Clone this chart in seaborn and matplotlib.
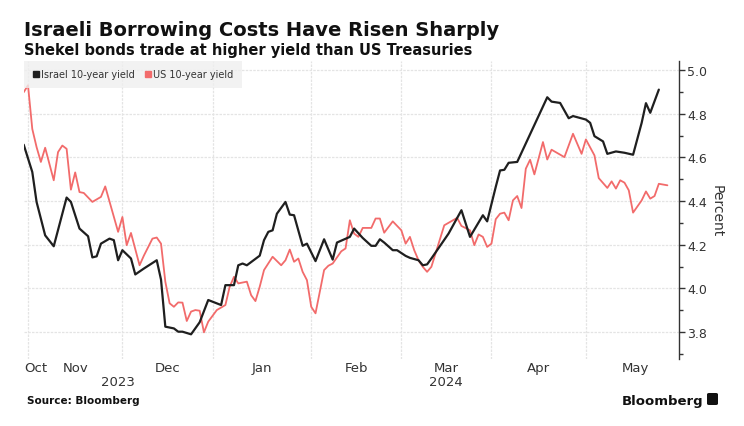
import numpy as np
import pandas as pd
import matplotlib
matplotlib.use("Agg")
import matplotlib.pyplot as plt
from matplotlib.lines import Line2D
from matplotlib.patches import FancyBboxPatch
from matplotlib.ticker import FixedLocator, NullFormatter
import seaborn as sns

# ---------------- data ----------------
series_names = ["Israel 10-year yield", "US 10-year yield"]
series_colors = ["#1f1f1f", "#f26b6b"]

israel_dates = [
    "2023-10-31", "2023-11-02", "2023-11-03", "2023-11-07", "2023-11-09", "2023-11-14",
    "2023-11-15", "2023-11-17", "2023-11-21", "2023-11-22", "2023-11-23", "2023-11-24",
    "2023-11-28", "2023-11-29", "2023-11-30", "2023-12-01", "2023-12-05", "2023-12-06",
    "2023-12-08", "2023-12-13", "2023-12-14", "2023-12-15", "2023-12-19", "2023-12-20",
    "2023-12-21", "2023-12-25", "2023-12-27", "2023-12-29", "2024-01-03", "2024-01-04",
    "2024-01-08", "2024-01-09", "2024-01-10", "2024-01-11", "2024-01-16", "2024-01-17",
    "2024-01-18", "2024-01-19", "2024-01-22", "2024-01-24", "2024-01-25", "2024-01-26",
    "2024-01-30", "2024-01-31", "2024-02-02", "2024-02-06", "2024-02-08", "2024-02-09",
    "2024-02-14", "2024-02-15", "2024-02-19", "2024-02-21", "2024-02-22", "2024-02-23",
    "2024-02-26", "2024-02-28", "2024-02-29", "2024-03-04", "2024-03-05", "2024-03-07",
    "2024-03-08", "2024-03-11", "2024-03-12", "2024-03-18", "2024-03-21", "2024-03-25",
    "2024-03-28", "2024-03-29", "2024-04-02", "2024-04-03", "2024-04-04", "2024-04-05",
    "2024-04-09", "2024-04-18", "2024-04-19", "2024-04-23", "2024-04-25", "2024-04-26",
    "2024-05-01", "2024-05-02", "2024-05-03", "2024-05-07", "2024-05-08", "2024-05-10",
    "2024-05-14", "2024-05-16", "2024-05-20", "2024-05-21", "2024-05-22", "2024-05-24",
]
israel_yield = [
    4.658, 4.533, 4.396, 4.243, 4.193, 4.416,
    4.396, 4.274, 4.239, 4.142, 4.147, 4.205,
    4.228, 4.221, 4.129, 4.175, 4.137, 4.064,
    4.091, 4.129, 4.040, 3.825, 3.817, 3.802,
    3.802, 3.790, 3.845, 3.947, 3.924, 4.015,
    4.015, 4.106, 4.114, 4.106, 4.150, 4.221,
    4.259, 4.266, 4.342, 4.396, 4.338, 4.335,
    4.195, 4.205, 4.125, 4.225, 4.132, 4.210,
    4.236, 4.274, 4.231, 4.195, 4.195, 4.225,
    4.210, 4.175, 4.175, 4.149, 4.140, 4.129,
    4.106, 4.110, 4.137, 4.251, 4.358, 4.236,
    4.335, 4.307, 4.465, 4.540, 4.543, 4.575,
    4.579, 4.875, 4.855, 4.849, 4.779, 4.789,
    4.773, 4.758, 4.697, 4.673, 4.616, 4.627,
    4.621, 4.612, 4.758, 4.848, 4.804, 4.910,
]

us_dates = [
    "2023-10-31", "2023-11-01", "2023-11-02", "2023-11-03", "2023-11-06", "2023-11-07",
    "2023-11-09", "2023-11-10", "2023-11-13", "2023-11-14", "2023-11-15", "2023-11-16",
    "2023-11-17", "2023-11-20", "2023-11-22", "2023-11-24", "2023-11-27", "2023-11-30",
    "2023-12-01", "2023-12-04", "2023-12-05", "2023-12-07", "2023-12-08", "2023-12-12",
    "2023-12-13", "2023-12-14", "2023-12-15", "2023-12-18", "2023-12-19", "2023-12-20",
    "2023-12-21", "2023-12-22", "2023-12-25", "2023-12-26", "2023-12-27", "2023-12-28",
    "2023-12-29", "2024-01-02", "2024-01-04", "2024-01-05", "2024-01-08", "2024-01-09",
    "2024-01-11", "2024-01-12", "2024-01-15", "2024-01-16", "2024-01-17", "2024-01-19",
    "2024-01-23", "2024-01-24", "2024-01-25", "2024-01-26", "2024-01-29", "2024-01-30",
    "2024-01-31", "2024-02-01", "2024-02-02", "2024-02-06", "2024-02-07", "2024-02-08",
    "2024-02-12", "2024-02-13", "2024-02-14", "2024-02-15", "2024-02-16", "2024-02-19",
    "2024-02-21", "2024-02-22", "2024-02-23", "2024-02-26", "2024-02-28", "2024-03-01",
    "2024-03-04", "2024-03-05", "2024-03-06", "2024-03-07", "2024-03-08", "2024-03-11",
    "2024-03-12", "2024-03-15", "2024-03-20", "2024-03-21", "2024-03-25", "2024-03-26",
    "2024-03-27", "2024-03-28", "2024-03-29", "2024-04-01", "2024-04-02", "2024-04-03",
    "2024-04-04", "2024-04-05", "2024-04-08", "2024-04-09", "2024-04-10", "2024-04-11",
    "2024-04-12", "2024-04-15", "2024-04-17", "2024-04-18", "2024-04-19", "2024-04-24",
    "2024-04-26", "2024-04-30", "2024-05-01", "2024-05-03", "2024-05-06", "2024-05-08",
    "2024-05-09", "2024-05-10", "2024-05-13", "2024-05-14", "2024-05-15", "2024-05-16",
    "2024-05-20", "2024-05-21", "2024-05-22", "2024-05-23", "2024-05-24", "2024-05-28",
]
us_yield = [
    4.898, 4.930, 4.730, 4.647, 4.579, 4.644,
    4.495, 4.624, 4.654, 4.639, 4.452, 4.531,
    4.441, 4.437, 4.396, 4.419, 4.467, 4.259,
    4.327, 4.198, 4.254, 4.106, 4.150, 4.228,
    4.233, 4.205, 4.031, 3.932, 3.916, 3.936,
    3.935, 3.851, 3.894, 3.901, 3.898, 3.799,
    3.848, 3.901, 3.924, 4.008, 4.053, 4.023,
    4.031, 3.969, 3.942, 4.008, 4.084, 4.145,
    4.106, 4.129, 4.178, 4.122, 4.137, 4.076,
    4.038, 3.916, 3.886, 4.084, 4.104, 4.114,
    4.170, 4.183, 4.312, 4.251, 4.236, 4.277,
    4.277, 4.320, 4.320, 4.255, 4.307, 4.266,
    4.205, 4.236, 4.175, 4.129, 4.099, 4.076,
    4.099, 4.289, 4.323, 4.286, 4.266, 4.198,
    4.247, 4.236, 4.190, 4.205, 4.317, 4.342,
    4.347, 4.312, 4.403, 4.423, 4.368, 4.548,
    4.589, 4.522, 4.670, 4.590, 4.635, 4.601,
    4.708, 4.616, 4.682, 4.609, 4.505, 4.460,
    4.490, 4.457, 4.495, 4.484, 4.449, 4.347,
    4.403, 4.444, 4.411, 4.423, 4.479, 4.472,
]

month_labels = ["Oct", "Nov", "Dec", "Jan", "Feb", "Mar", "Apr", "May"]
year_labels = ["2023", "2024"]
y_major = [3.8, 4.0, 4.2, 4.4, 4.6, 4.8, 5.0]
y_minor = [3.7, 3.9, 4.1, 4.3, 4.5, 4.7, 4.9]

# ------------- helpers (trading-day axis) -------------
base = np.datetime64("2023-11-01")


def bpos(dates):
    return np.busday_count(base, np.array(dates, dtype="datetime64[D]"))


df = pd.concat([
    pd.DataFrame({"x": bpos(israel_dates), "y": israel_yield, "series": series_names[0]}),
    pd.DataFrame({"x": bpos(us_dates), "y": us_yield, "series": series_names[1]}),
], ignore_index=True)

month_starts = pd.date_range("2023-11-01", "2024-06-01", freq="MS").strftime("%Y-%m-%d").tolist()
ms_pos = bpos(month_starts)  # Nov1 .. Jun1
year_start_pos = bpos(["2024-01-01"])[0]

# ---------------- figure ----------------
sns.set_theme(style="white")
plt.rcParams["font.family"] = ["DejaVu Sans"]

W, H = 744, 427
fig = plt.figure(figsize=(W / 100, H / 100), dpi=100)
L, R, T, B = 24, 679, 62, 360
ax = fig.add_axes([L / W, 1 - B / H, (R - L) / W, (B - T) / H])

sns.lineplot(data=df[df.series == series_names[1]], x="x", y="y", color=series_colors[1],
             estimator=None, sort=False, ax=ax, legend=False, linewidth=1.3, zorder=3)
sns.lineplot(data=df[df.series == series_names[0]], x="x", y="y", color=series_colors[0],
             estimator=None, sort=False, ax=ax, legend=False, linewidth=1.6, zorder=4)

xmin, xmax = -0.93, 151.7
ax.set_xlim(xmin, xmax)
ax.set_ylim(3.677, 5.041)

# grid
for v in y_major:
    ax.axhline(v, color="#e4e4e4", lw=0.9, ls=(0, (2, 1)), zorder=1)
for p in ms_pos[:-1]:
    ax.axvline(p, color="#e4e4e4", lw=0.9, ls=(0, (2, 1)), zorder=1)

# spines
for s in ["top", "left", "bottom"]:
    ax.spines[s].set_visible(False)
ax.spines["right"].set_color("#333333")
ax.spines["right"].set_linewidth(1.0)

# y axis on the right
ax.yaxis.tick_right()
ax.yaxis.set_major_locator(FixedLocator(y_major))
ax.yaxis.set_minor_locator(FixedLocator(y_minor))
ax.yaxis.set_minor_formatter(NullFormatter())
ax.set_yticklabels([f"{v:.1f}" for v in y_major])
ax.tick_params(axis="y", which="major", direction="out", length=4, width=1, color="#333333",
               labelsize=9, labelcolor="#333333", pad=2, left=False, right=True)
ax.tick_params(axis="y", which="minor", direction="out", length=3, width=1, color="#333333",
               left=False, right=True)
ax.set_xticks([])
ax.set_xlabel("")
ax.set_ylabel("")

# month labels
xt = ax.get_xaxis_transform()
mids = [(ms_pos[i] + ms_pos[i + 1]) / 2 for i in range(len(ms_pos) - 1)]
ax.text(xmin, -0.027, month_labels[0], transform=xt, ha="left", va="center",
        fontsize=9.5, color="#333333")
for lab, m in zip(month_labels[1:], mids):
    ax.text(m, -0.027, lab, transform=xt, ha="center", va="center", fontsize=9.5, color="#333333")
ax.text((xmin + year_start_pos) / 2, -0.077, year_labels[0], transform=xt, ha="center",
        va="center", fontsize=9.5, color="#333333")
ax.text((year_start_pos + xmax) / 2, -0.077, year_labels[1], transform=xt, ha="center",
        va="center", fontsize=9.5, color="#333333")

# legend
handles = [Line2D([], [], marker="s", ls="", color=c, markersize=5) for c in series_colors]
leg = ax.legend(handles, series_names, loc="upper left", bbox_to_anchor=(0, 1), ncol=2,
                frameon=True, fancybox=False, fontsize=7.0, handletextpad=0.1,
                handlelength=0.8, columnspacing=1.0, borderaxespad=0, borderpad=0.85)
leg.get_frame().set_facecolor("#efefef")
leg.get_frame().set_edgecolor("none")
for t in leg.get_texts():
    t.set_color("#333333")

# titles and notes
fig.text(L / W, 1 - 36 / H, "Israeli Borrowing Costs Have Risen Sharply", ha="left",
         va="baseline", fontsize=14, fontweight="bold", color="#111111")
fig.text(L / W, 1 - 54.5 / H, "Shekel bonds trade at higher yield than US Treasuries",
         ha="left", va="baseline", fontsize=10.5, fontweight="bold", color="#111111")
fig.text(717 / W, 1 - 211 / H, "Percent", rotation=270, ha="center", va="center",
         fontsize=10, color="#333333")
fig.text(27 / W, 1 - 404 / H, "Source: Bloomberg", ha="left", va="baseline",
         fontsize=7.5, fontweight="bold", color="#111111")
fig.text(703 / W, 1 - 405 / H, "Bloomberg", ha="right", va="baseline",
         fontsize=9.5, fontweight="bold", color="#111111")
fig.patches.append(FancyBboxPatch((707 / W, 1 - 406 / H), 11 / W, 12 / H,
                                  boxstyle="round,pad=0,rounding_size=0.003",
                                  transform=fig.transFigure, facecolor="#111111",
                                  edgecolor="none"))

fig.savefig("out.png", dpi=100)
